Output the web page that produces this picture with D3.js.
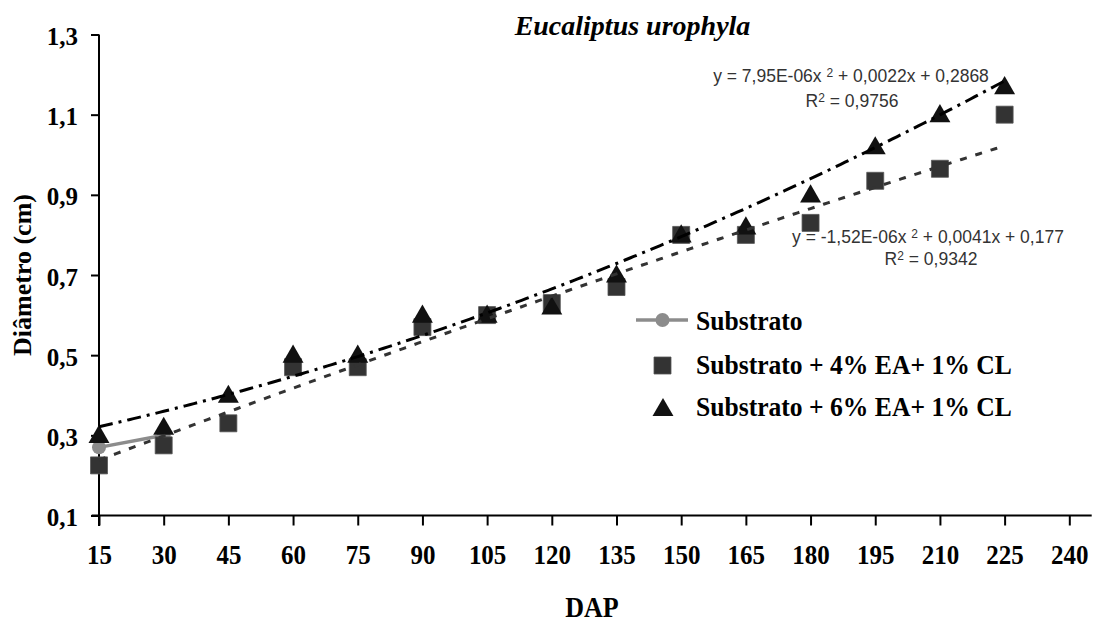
<!DOCTYPE html>
<html>
<head>
<meta charset="utf-8">
<script src="https://cdn.jsdelivr.net/npm/d3@7"></script>
<style>
  html, body { margin: 0; padding: 0; background: #fff; }
  svg { display: block; }
  .serif { font-family: "Liberation Serif", "Times New Roman", Times, serif; font-weight: bold; }
  .sans { font-family: "Liberation Sans", Arial, sans-serif; }
</style>
</head>
<body>
<svg id="chart" width="1098" height="624"></svg>
<script>
// Days after planting (DAP)
const dap = [15, 30, 45, 60, 75, 90, 105, 120, 135, 150, 165, 180, 195, 210, 225];
// Stem diameter (cm) per treatment
const substrato = [0.27, 0.30];                       // measured at 15 and 30 DAP only
const ea4 = [0.225, 0.275, 0.33, 0.47, 0.47, 0.57, 0.60, 0.63, 0.67, 0.80, 0.80, 0.83, 0.935, 0.965, 1.10];
const ea6 = [0.30, 0.32, 0.40, 0.50, 0.50, 0.60, 0.60, 0.62, 0.70, 0.80, 0.82, 0.90, 1.02, 1.10, 1.17];
// Axis ticks
const xTicks = [15, 30, 45, 60, 75, 90, 105, 120, 135, 150, 165, 180, 195, 210, 225, 240];
const yTicks = [0.1, 0.3, 0.5, 0.7, 0.9, 1.1, 1.3];
// Quadratic trend coefficients [a, b, c] for y = a x^2 + b x + c
const trend4 = [-1.52e-6, 0.0041, 0.177];
const trend6 = [7.95e-6, 0.0022, 0.2868];
const legendLabels = ["Substrato", "Substrato + 4% EA+ 1% CL", "Substrato + 6% EA+ 1% CL"];

const svg = d3.select("#chart");
const x = d3.scaleLinear().domain([15, 240]).range([99, 1069.3]);
const y = d3.scaleLinear().domain([0.1, 1.3]).range([515.5, 34.5]);
const fmt = v => d3.format(".1f")(v).replace(".", ",");

// Axes
const xAxis = svg.append("g").attr("transform", `translate(0,${y(0.1)})`)
  .call(d3.axisBottom(x).tickValues(xTicks).tickSize(10).tickPadding(16).tickSizeOuter(0));
xAxis.select(".domain").attr("d", `M91.7,0H1091.7`);
const yAxis = svg.append("g").attr("transform", `translate(${x(15)},0)`)
  .call(d3.axisLeft(y).tickValues(yTicks).tickFormat(fmt).tickSize(8).tickPadding(13).tickSizeOuter(0));
yAxis.select(".domain").attr("d", `M0,${y(1.3)}V526`);
svg.selectAll(".domain, .tick line").attr("stroke", "#000").attr("stroke-width", 2);
svg.selectAll(".tick text").attr("class", "serif").attr("font-size", 25).attr("fill", "#000");
xAxis.selectAll(".tick text").attr("dy", "0.71em").attr("transform", "scale(1,1.1)");
yAxis.selectAll(".tick text").attr("dy", "0.4em");

// Substrato series: line + circle markers
const subPts = substrato.map((v, i) => [dap[i], v]);
svg.append("path").datum(subPts)
  .attr("d", d3.line().x(d => x(d[0])).y(d => y(d[1])))
  .attr("fill", "none").attr("stroke", "#8c8c8c").attr("stroke-width", 3.5);
svg.selectAll(".c").data(subPts).join("circle")
  .attr("cx", d => x(d[0])).attr("cy", d => y(d[1])).attr("r", 7).attr("fill", "#8c8c8c");

// 4% EA squares
const sq = d3.symbol().type(d3.symbolSquare).size(17 * 17);
const tri = d3.symbol().type(d3.symbolTriangle).size(190);
svg.selectAll(".sq").data(ea4).join("path")
  .attr("d", sq).attr("fill", "#333").attr("stroke", "#555").attr("stroke-width", 0.8)
  .attr("transform", (d, i) => `translate(${x(dap[i])},${y(d)})`);
// 6% EA triangles
svg.selectAll(".tr").data(ea6).join("path")
  .attr("d", tri).attr("fill", "#111")
  .attr("transform", (d, i) => `translate(${x(dap[i])},${y(d) + 1.5})`);

// Quadratic trend lines
const poly = c => t => c[0] * t * t + c[1] * t + c[2];
const span = d3.range(15, 225.01, 1);
const tline = f => d3.line().x(t => x(t)).y(t => y(f(t)));
svg.append("path").datum(span).attr("d", tline(poly(trend4)))
  .attr("fill", "none").attr("stroke", "#333").attr("stroke-width", 3)
  .attr("stroke-dasharray", "7,9");
svg.append("path").datum(span).attr("d", tline(poly(trend6)))
  .attr("fill", "none").attr("stroke", "#000").attr("stroke-width", 3)
  .attr("stroke-dasharray", "14,6,3,6");

// Equation labels
function eq(xc, yb, parts) {
  const t = svg.append("text").attr("class", "sans").attr("font-size", 17.5)
    .attr("fill", "#333").attr("x", xc).attr("y", yb).attr("text-anchor", "middle");
  parts.forEach(p => {
    const s = t.append("tspan").text(p[0]);
    if (p[1]) s.attr("font-size", 12).attr("baseline-shift", "45%");
  });
}
eq(851, 82, [["y = 7,95E-06x "], ["2", 1], [" + 0,0022x + 0,2868"]]);
eq(852, 107, [["R"], ["2", 1], [" = 0,9756"]]);
eq(928, 243, [["y = -1,52E-06x "], ["2", 1], [" + 0,0041x + 0,177"]]);
eq(931, 265, [["R"], ["2", 1], [" = 0,9342"]]);

// Legend
const lg = svg.append("g");
lg.append("line").attr("x1", 636).attr("x2", 688).attr("y1", 320).attr("y2", 320)
  .attr("stroke", "#8c8c8c").attr("stroke-width", 3.5);
lg.append("circle").attr("cx", 662.5).attr("cy", 320).attr("r", 7).attr("fill", "#8c8c8c");
lg.append("path").attr("d", sq).attr("fill", "#333").attr("stroke", "#555").attr("stroke-width", 0.8)
  .attr("transform", "translate(662.5,365.5)");
lg.append("path").attr("d", tri).attr("fill", "#111").attr("transform", "translate(663,410)");
[330, 374, 416].forEach((yb, i) => {
  lg.append("text").attr("class", "serif").attr("font-size", 25.6)
    .attr("transform", `translate(696,${yb}) scale(1,1.1)`).text(legendLabels[i]);
});

// Title and axis titles
svg.append("text").attr("class", "serif").attr("font-style", "italic").attr("font-size", 28)
  .attr("x", 632.5).attr("y", 35).attr("text-anchor", "middle").text("Eucaliptus urophyla");
svg.append("text").attr("class", "serif").attr("font-size", 26).attr("text-anchor", "middle")
  .attr("transform", "translate(592,617) scale(1,1.1)").text("DAP");
svg.append("text").attr("class", "serif").attr("font-size", 26).attr("text-anchor", "middle")
  .attr("transform", "translate(31,275) rotate(-90)").text("Diâmetro (cm)");
</script>
</body>
</html>
